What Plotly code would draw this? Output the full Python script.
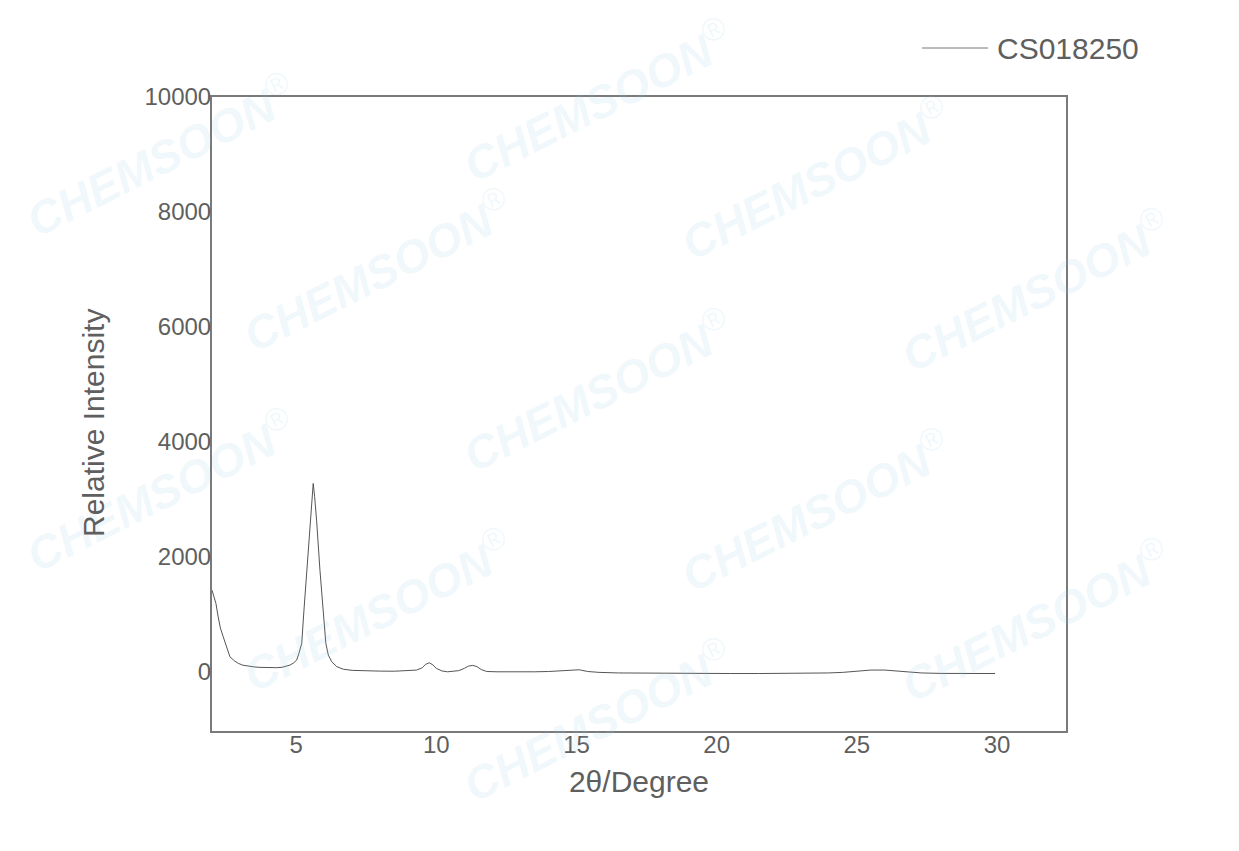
import plotly.graph_objects as go

# ---- data (2θ in degrees, relative intensity) ----
two_theta = [2.0, 2.07, 2.14, 2.22, 2.3, 2.4, 2.5, 2.64, 2.8, 2.94, 3.1, 3.3, 3.5, 3.71, 3.9,
             4.1, 4.3, 4.5, 4.65, 4.78, 4.9, 5.02, 5.1, 5.2, 5.28, 5.38, 5.5, 5.56, 5.61, 5.66,
             5.73, 5.85, 5.95, 6.06, 6.15, 6.27, 6.45, 6.68, 7.0, 7.5, 8.0, 8.5, 9.0, 9.3, 9.5,
             9.62, 9.75, 9.88, 10.0, 10.2, 10.4, 10.6, 10.8, 11.0, 11.15, 11.3, 11.45, 11.6, 11.8,
             12.2, 12.9, 13.5, 14.0, 14.5, 14.85, 15.1, 15.4, 15.8, 16.5, 17.5, 18.5, 19.5, 20.5,
             21.5, 22.5, 23.5, 24.0, 24.5, 25.0, 25.5, 26.0, 26.3, 26.8, 27.3, 28.0, 29.0, 29.93]
intensity = [1420, 1300, 1190, 956, 760, 609, 460, 261, 190, 146, 115, 95, 85, 77, 72,
             70, 72, 78, 95, 117, 150, 203, 320, 494, 1073, 1769, 2638, 3050, 3276, 3050,
             2638, 1769, 1073, 494, 290, 174, 90, 45, 25, 15, 12, 10, 15, 30, 70,
             130, 157, 120, 60, 15, 0, 5, 20, 60, 100, 111, 90, 40, 5,
             0, -5, 0, 5, 20, 40, 35, 5, -10, -20, -25, -28, -30, -30,
             -30, -30, -28, -20, -10, 10, 30, 30, 20, -5, -20, -28, -30, -30]

series_name = "CS018250"
x_title = "2θ/Degree"
y_title = "Relative Intensity"
x_ticks = [5, 10, 15, 20, 25, 30]
y_ticks = [0, 2000, 4000, 6000, 8000, 10000]
y_tick_text = ["0", "2000", "4000", "6000", "8000", "10000"]
x_range = [2.0, 32.46]
y_range = [-1030, 10000]

FONT = "Liberation Sans, Arial, sans-serif"
TEXT = "#5f5f5f"
AXIS = "#7a7a7a"

# page has an 8px body margin; plot area spans x 212..1066, y 97..731 in the window
OFF = 8
L, T, R, B = 212 - OFF, 97 - OFF, 173, 120
W, H = 1239 - OFF, 851 - OFF
PW, PH = 854, 634


def px(xw):
    return (xw - 212) / PW


def py(yw):
    return (731 - yw) / PH


fig = go.Figure()
fig.add_trace(go.Scatter(x=two_theta, y=intensity, mode="lines", name=series_name,
                         line=dict(color="#555555", width=1), showlegend=False))

# faint watermarks
wm_centers = [(160, 155), (160, 490), (377, 270), (377, 610), (597, 100), (597, 390),
              (597, 720), (815, 178), (815, 510), (1035, 290), (1035, 620)]
for cx, cy in wm_centers:
    fig.add_annotation(text="<b><i>CHEMSOON</i></b><sup>®</sup>", xref="paper", yref="paper",
                       x=px(cx), y=py(cy), showarrow=False, textangle=-26.6,
                       font=dict(family=FONT, size=46, color="rgba(150,205,235,0.15)"),
                       xanchor="center", yanchor="middle")

# legend (line sample + label)
fig.add_shape(type="line", xref="paper", yref="paper",
              x0=px(922), x1=px(988), y0=py(48), y1=py(48),
              line=dict(color="#777777", width=1))
fig.add_annotation(text=series_name, xref="paper", yref="paper", x=px(995),
                   y=py(48), xanchor="left", yanchor="middle", showarrow=False,
                   font=dict(family=FONT, size=30, color=TEXT))

# y axis title
fig.add_annotation(text=y_title, xref="paper", yref="paper", x=px(93), y=py(423),
                   textangle=-90, showarrow=False, xanchor="center", yanchor="middle",
                   font=dict(family=FONT, size=30, color=TEXT))

fig.update_layout(
    width=W, height=H,
    margin=dict(l=L, r=R, t=T, b=B),
    paper_bgcolor="white", plot_bgcolor="white",
    font=dict(family=FONT, color=TEXT),
    xaxis=dict(range=x_range, tickvals=x_ticks, ticks="", showgrid=False, zeroline=False,
               showline=True, linecolor=AXIS, linewidth=2, mirror=True,
               tickfont=dict(size=24, color=TEXT), ticklabelstandoff=-9,
               title=dict(text=x_title, font=dict(size=30, color=TEXT), standoff=14)),
    yaxis=dict(range=y_range, tickvals=y_ticks, ticktext=y_tick_text, ticks="", showgrid=False,
               zeroline=False, showline=True, linecolor=AXIS, linewidth=2, mirror=True,
               tickfont=dict(size=24, color=TEXT), ticklabelstandoff=-6),
)

fig.write_html("out.html")
